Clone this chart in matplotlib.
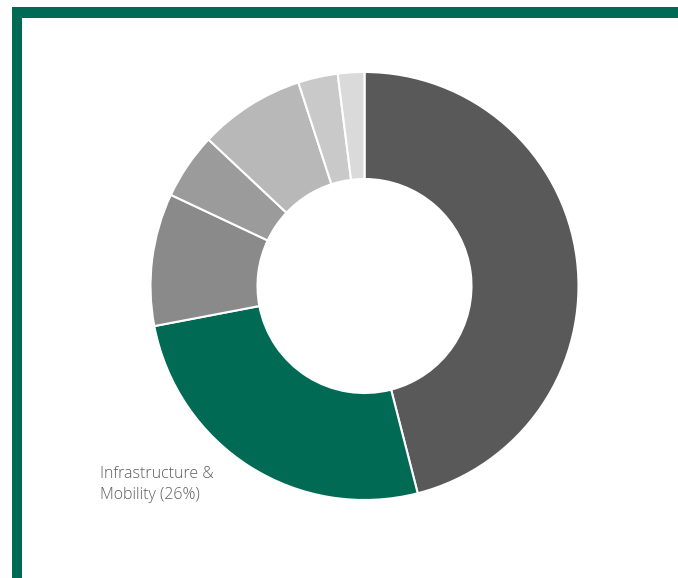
import matplotlib
matplotlib.use("Agg")
import matplotlib.pyplot as plt
from matplotlib.patches import Rectangle

# Portfolio shares by segment (percent), clockwise from 12 o'clock
segments = ["Segment A", "Infrastructure & Mobility", "Segment C", "Segment D",
            "Segment E", "Segment F", "Segment G"]
shares = [46, 26, 10, 5, 8, 3, 2]
colors = ["#595959", "#006a55", "#8a8a8a", "#9b9b9b", "#b8b8b8", "#c9c9c9", "#dadada"]

W, H = 678, 578
fig = plt.figure(figsize=(W / 100, H / 100), dpi=100)
fig.patch.set_facecolor("white")

# Frame accents: green bar across the top and down the left side
green = "#006a55"
fig.patches.append(Rectangle((12 / W, 0), 10 / W, 1 - 7 / H, transform=fig.transFigure,
                             facecolor=green, edgecolor="none", zorder=0))
fig.patches.append(Rectangle((12 / W, 1 - 18 / H), 1 - 12 / W, 11 / H, transform=fig.transFigure,
                             facecolor=green, edgecolor="none", zorder=0))

cx, cy, r = 364.5, 286, 214
ax = fig.add_axes([(cx - r) / W, (H - cy - r) / H, 2 * r / W, 2 * r / H])
ax.pie(shares, colors=colors, startangle=90, counterclock=False,
       radius=1.0, wedgeprops=dict(width=0.5, edgecolor="white", linewidth=1.5))
ax.set_xlim(-1, 1)
ax.set_ylim(-1, 1)
ax.set_aspect("equal")
ax.axis("off")

fig.text(100 / W, 1 - 503 / H, f"Infrastructure &\nMobility ({shares[1]}%)",
         fontsize=11.5, color="#5e5e5e", family="Open Sans", weight="light",
         ha="left", va="bottom", linespacing=1.45)

fig.savefig("out.png", dpi=100)
